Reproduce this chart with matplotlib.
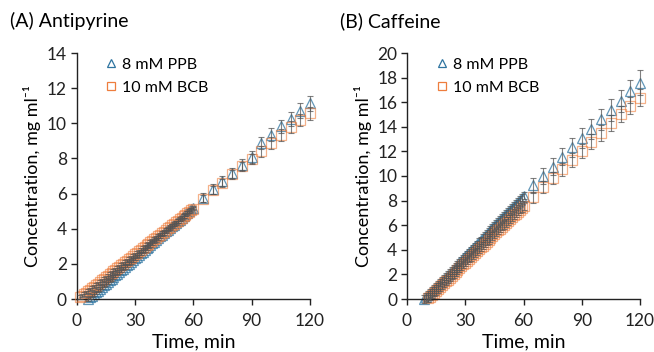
import matplotlib
matplotlib.use('Agg')
import matplotlib.pyplot as plt
import numpy as np

plt.rcParams['font.family'] = ['Lato', 'DejaVu Sans']

# (A) Antipyrine, dense sampling every minute up to 60 min
ant_ppb_start = 6
ant_ppb_dense = [0.00, 0.09, 0.19, 0.28, 0.38, 0.48, 0.57, 0.67, 0.77, 0.86,
                 0.96, 1.06, 1.15, 1.25, 1.35, 1.44, 1.54, 1.63, 1.73, 1.83,
                 1.92, 2.02, 2.12, 2.21, 2.31, 2.41, 2.50, 2.60, 2.69, 2.79,
                 2.89, 2.98, 3.08, 3.18, 3.27, 3.37, 3.46, 3.56, 3.66, 3.75,
                 3.85, 3.95, 4.04, 4.14, 4.23, 4.33, 4.43, 4.52, 4.62, 4.72,
                 4.81, 4.91, 5.00, 5.10, 5.20]
ant_bcb_start = 2
ant_bcb_dense = [0.10, 0.19, 0.27, 0.36, 0.45, 0.53, 0.62, 0.71, 0.80, 0.88,
                 0.97, 1.06, 1.14, 1.23, 1.32, 1.41, 1.49, 1.58, 1.67, 1.75,
                 1.84, 1.93, 2.01, 2.10, 2.19, 2.28, 2.36, 2.45, 2.54, 2.62,
                 2.71, 2.80, 2.89, 2.97, 3.06, 3.15, 3.23, 3.32, 3.41, 3.49,
                 3.58, 3.67, 3.76, 3.84, 3.93, 4.02, 4.10, 4.19, 4.28, 4.36,
                 4.45, 4.54, 4.63, 4.71, 4.80, 4.89, 4.97, 5.06, 5.15]
ant_dense_err = 0.1

# sparse points every 5 min after 60 min
sparse_t = [65, 70, 75, 80, 85, 90, 95, 100, 105, 110, 115, 120]
ant_ppb = [5.77, 6.24, 6.71, 7.16, 7.65, 8.07, 8.86, 9.35, 9.82, 10.24, 10.71, 11.13]
ant_ppb_err = [0.25, 0.28, 0.30, 0.30, 0.32, 0.33, 0.35, 0.37, 0.38, 0.40, 0.42, 0.43]
ant_bcb = [5.70, 6.20, 6.60, 7.10, 7.55, 7.95, 8.40, 8.88, 9.33, 9.77, 10.19, 10.56]
ant_bcb_err = [0.20, 0.22, 0.24, 0.25, 0.27, 0.28, 0.30, 0.32, 0.33, 0.34, 0.35, 0.36]

# (B) Caffeine
caf_ppb_start = 9
caf_ppb_dense = [0.00, 0.16, 0.33, 0.49, 0.66, 0.82, 0.99, 1.15, 1.32, 1.48,
                 1.65, 1.81, 1.98, 2.14, 2.31, 2.47, 2.64, 2.80, 2.97, 3.13,
                 3.30, 3.46, 3.63, 3.79, 3.96, 4.12, 4.29, 4.45, 4.62, 4.78,
                 4.95, 5.11, 5.28, 5.44, 5.61, 5.77, 5.94, 6.10, 6.27, 6.43,
                 6.60, 6.76, 6.93, 7.09, 7.26, 7.42, 7.59, 7.75, 7.92, 8.08,
                 8.25, 8.41]
caf_bcb_start = 11
caf_bcb_dense = [0.05, 0.20, 0.36, 0.51, 0.66, 0.82, 0.97, 1.12, 1.28, 1.43,
                 1.58, 1.74, 1.89, 2.04, 2.20, 2.35, 2.50, 2.66, 2.81, 2.96,
                 3.12, 3.27, 3.42, 3.58, 3.73, 3.88, 4.04, 4.19, 4.34, 4.50,
                 4.65, 4.80, 4.96, 5.11, 5.26, 5.42, 5.57, 5.72, 5.88, 6.03,
                 6.18, 6.34, 6.49, 6.64, 6.80, 6.95, 7.10, 7.26, 7.41, 7.56]
caf_dense_err = 0.3
caf_ppb = [9.23, 10.04, 10.77, 11.58, 12.33, 13.09, 13.82, 14.63, 15.36, 16.11, 16.87, 17.60]
caf_ppb_err = [0.60, 0.65, 0.70, 0.72, 0.75, 0.80, 0.82, 0.85, 0.88, 0.92, 0.95, 1.00]
caf_bcb = [8.28, 9.09, 9.85, 10.53, 11.31, 12.06, 12.79, 13.50, 14.28, 15.03, 15.71, 16.38]
caf_bcb_err = [0.45, 0.48, 0.50, 0.52, 0.55, 0.58, 0.60, 0.62, 0.64, 0.66, 0.68, 0.70]

blue = '#2E74A0'
orange = '#EE7D3D'
errc = '#555555'

fig = plt.figure(figsize=(6.54, 3.52), dpi=100)
axA = fig.add_axes([76.5/654, 53/352, 233.5/654, 246/352])
axB = fig.add_axes([407/654, 53/352, 233/654, 246/352])


def draw(ax, ppb_start, ppb_dense, bcb_start, bcb_dense, dense_err,
         ppb, ppb_err, bcb, bcb_err, ymax, ystep):
    t1 = np.arange(ppb_start, ppb_start + len(ppb_dense))
    t2 = np.arange(bcb_start, bcb_start + len(bcb_dense))
    tp = np.concatenate([t1, sparse_t])
    yp = np.concatenate([ppb_dense, ppb])
    ep = np.concatenate([np.full(len(t1), dense_err), ppb_err])
    tb = np.concatenate([t2, sparse_t])
    yb = np.concatenate([bcb_dense, bcb])
    eb = np.concatenate([np.full(len(t2), dense_err), bcb_err])
    for t, y, e in [(tp, yp, ep), (tb, yb, eb)]:
        eb_ = ax.errorbar(t, y, yerr=e, fmt='none', ecolor=errc, elinewidth=0.8,
                          capsize=2, capthick=0.8, zorder=3, alpha=0.75)
        for art in eb_.get_children():
            art.set_clip_on(False)
    ax.plot(tp, yp, linestyle='none', marker='^', ms=7, mfc='none',
            mec=blue, mew=0.9, alpha=0.75, zorder=2, label='8 mM PPB',
            clip_on=False)
    ax.plot(tb, yb, linestyle='none', marker='s', ms=7, mfc='none',
            mec=orange, mew=0.9, alpha=0.6, zorder=2.5, label='10 mM BCB',
            clip_on=False)
    ax.set_xlim(0, 120)
    ax.set_ylim(0, ymax)
    ax.set_xticks([0, 30, 60, 90, 120])
    ax.set_yticks(np.arange(0, ymax + 0.1, ystep))
    ax.spines['top'].set_visible(False)
    ax.spines['right'].set_visible(False)
    for s in ['left', 'bottom']:
        ax.spines[s].set_linewidth(1.0)
        ax.spines[s].set_color('#222222')
    ax.tick_params(direction='out', length=4, width=1.0, labelsize=12.5,
                   colors='#222222', pad=3)
    ax.tick_params(axis='x', pad=6)
    ax.set_xlabel('Time, min', fontsize=14, labelpad=3)
    ax.set_ylabel('Concentration, mg ml⁻¹', fontsize=13, labelpad=4)
    leg = ax.legend(loc='upper left', bbox_to_anchor=(0.06, 1.04), frameon=False,
                    fontsize=11.5, handlelength=0.8, handletextpad=0.3,
                    labelspacing=0.55, markerscale=0.85)
    for h in leg.legend_handles:
        h.set_alpha(1)


draw(axA, ant_ppb_start, ant_ppb_dense, ant_bcb_start, ant_bcb_dense, ant_dense_err,
     ant_ppb, ant_ppb_err, ant_bcb, ant_bcb_err, 14, 2)
draw(axB, caf_ppb_start, caf_ppb_dense, caf_bcb_start, caf_bcb_dense, caf_dense_err,
     caf_ppb, caf_ppb_err, caf_bcb, caf_bcb_err, 20, 2)

fig.text(10/654, 1 - 21/352, '(A) Antipyrine', fontsize=14, va='center', ha='left')
fig.text(340/654, 1 - 21/352, '(B) Caffeine', fontsize=14, va='center', ha='left')

fig.savefig('out.png', dpi=100)
